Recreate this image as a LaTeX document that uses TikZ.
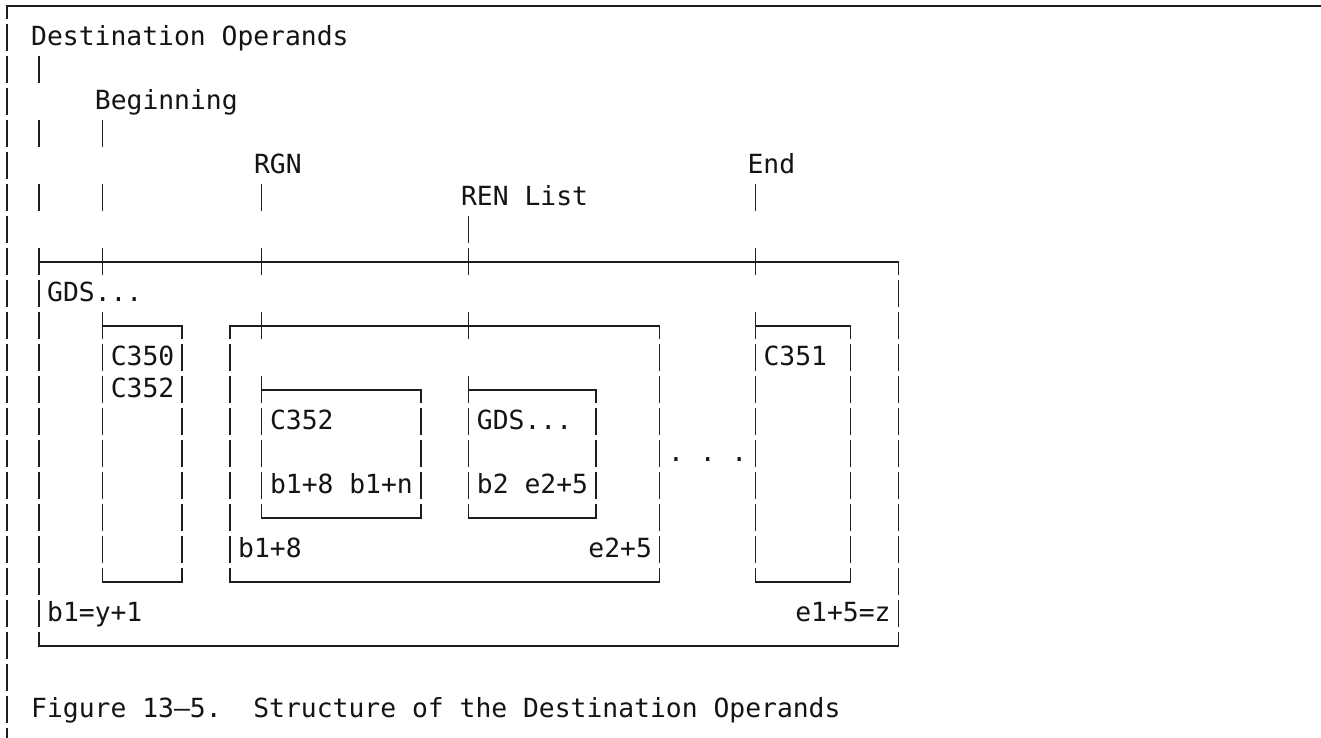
\documentclass[tikz,border=0pt]{standalone}
\usepackage{fontspec}
\usepackage{tikz}
\newfontfamily\chartmono{DejaVu Sans Mono}
\definecolor{ruleink}{RGB}{30,30,30}
\definecolor{textink}{RGB}{20,20,20}

\begin{document}
\begin{tikzpicture}[x=0.3184cm, y=-0.64cm,
    hline/.style={ruleink, line width=0.8pt, line cap=rect},
    vline/.style={ruleink, line width=0.8pt, dash pattern=on 0.54cm off 0.1cm, dash phase=0.59cm},
    vcorner/.style={vline, dash phase=0.27cm},
    lbl/.style={textink, anchor=base west, inner sep=0pt, yshift=-0.16cm,
      font=\chartmono\fontsize{15pt}{18pt}\selectfont\frenchspacing}]
    % page (one unit = one character cell)
    \fill[white] (-0.4397,-0.1875) rectangle (82.54,22.875);
    \useasboundingbox (-0.4397,-0.1875) rectangle (82.54,22.875);
    % outer frame of the figure
    \draw[hline] (0,0) -- (82.54,0);
    \draw[vcorner] (0,0) -- (0,22.875);
    % labels on top
    \node[lbl] (dest) at (1.5,1) {Destination Operands};
    \node[lbl] (begin) at (5.5,3) {Beginning};
    \node[lbl] (rgn) at (15.5,5) {RGN};
    \node[lbl] (endlbl) at (46.5,5) {End};
    \node[lbl] (renlist) at (28.5,6) {REN List};
    % ticks below the labels
    \draw[vline] (2,1.5) -- (2,2.5);
    \foreach \k in {2,6} \draw[vline] (\k,3.5) -- (\k,4.5);
    \foreach \k in {2,6,16,47} \draw[vline] (\k,5.5) -- (\k,6.5);
    \draw[vline] (29,6.5) -- (29,7.5);
    % whole operand area
    \draw[hline] (2,8) -- (56,8);
    \draw[hline] (2,20) -- (56,20);
    \draw[vline] (2,7.5) -- (2,20);
    \draw[vcorner] (56,8) -- (56,20);
    \foreach \k in {6,16,29,47} \draw[vline] (\k,7.5) -- (\k,8.5);
    \node[lbl] (gdsout) at (2.5,9) {GDS...};
    \node[lbl] (bfirst) at (2.5,19) {b1=y+1};
    \node[lbl] (elast) at (49.5,19) {e1+5=z};
    % Beginning box
    \draw[hline] (6,10) -- (11,10);
    \draw[hline] (6,18) -- (11,18);
    \draw[vline] (6,9.5) -- (6,18);
    \draw[vcorner] (11,10) -- (11,18);
    \node[lbl] (cbeg) at (6.5,11) {C350};
    \node[lbl] (cbegb) at (6.5,12) {C352};
    % RGN box
    \draw[hline] (14,10) -- (41,10);
    \draw[hline] (14,18) -- (41,18);
    \draw[vcorner] (14,10) -- (14,18);
    \draw[vcorner] (41,10) -- (41,18);
    \foreach \k in {16,29} \draw[vline] (\k,9.5) -- (\k,10.5);
    \node[lbl] (rgnfrom) at (14.5,17) {b1+8};
    \node[lbl] (rgnto) at (36.5,17) {e2+5};
    % RGN entry and REN list inside
    \draw[hline] (16,12) -- (26,12);
    \draw[hline] (16,16) -- (26,16);
    \draw[vline] (16,11.5) -- (16,16);
    \draw[vcorner] (26,12) -- (26,16);
    \node[lbl] (crgn) at (16.5,13) {C352};
    \node[lbl] (rgnrange) at (16.5,15) {b1+8 b1+n};
    \draw[hline] (29,12) -- (37,12);
    \draw[hline] (29,16) -- (37,16);
    \draw[vline] (29,11.5) -- (29,16);
    \draw[vcorner] (37,12) -- (37,16);
    \node[lbl] (gdsren) at (29.5,13) {GDS...};
    \node[lbl] (renrange) at (29.5,15) {b2 e2+5};
    % further operands
    \node[lbl] (more) at (41.5,14) {. . .};
    % End box
    \draw[hline] (47,10) -- (53,10);
    \draw[hline] (47,18) -- (53,18);
    \draw[vline] (47,9.5) -- (47,18);
    \draw[vcorner] (53,10) -- (53,18);
    \node[lbl] (cend) at (47.5,11) {C351};
    % caption
    \node[lbl] (caption) at (1.5,22) {Figure 13–5.\ \ Structure of the Destination Operands};
\end{tikzpicture}
\end{document}
